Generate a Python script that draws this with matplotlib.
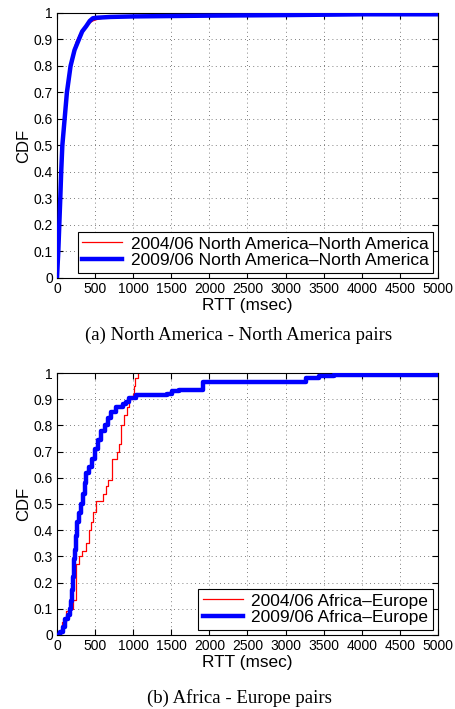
import numpy as np
import matplotlib.pyplot as plt

# North America - North America pairs (RTT msec, CDF)
na_2004_rtt = [0, 10, 20, 30, 45, 60, 75, 90, 105, 130, 155, 180, 210, 250, 290, 330, 380, 420, 470, 520, 600, 800, 1200, 2000, 3000, 4000, 5000]
na_2004_cdf = [0, 0.08, 0.16, 0.24, 0.33, 0.42, 0.50, 0.56, 0.62, 0.70, 0.76, 0.80, 0.85, 0.89, 0.915, 0.935, 0.95, 0.96, 0.97, 0.975, 0.98, 0.985, 0.988, 0.99, 0.992, 0.995, 0.995]
na_2009_rtt = [0, 10, 17, 30, 43, 55, 70, 85, 100, 130, 178, 230, 287, 330, 383, 430, 470, 520, 700, 1000, 2000, 3000, 4000, 5000]
na_2009_cdf = [0, 0.06, 0.1, 0.2, 0.3, 0.4, 0.5, 0.55, 0.6, 0.7, 0.8, 0.86, 0.9, 0.93, 0.95, 0.97, 0.98, 0.982, 0.985, 0.987, 0.99, 0.992, 0.995, 0.995]

# Africa - Europe pairs (step CDFs)
af_2004_rtt = [0, 40, 70, 120, 160, 209, 243, 287, 330, 383, 417, 448, 470, 513, 600, 643, 665, 722, 787, 809, 839, 883, 913, 948, 991, 1010, 1030, 1057]
af_2004_cdf = [0, 0.02, 0.05, 0.09, 0.10, 0.134, 0.27, 0.30, 0.32, 0.35, 0.40, 0.43, 0.47, 0.51, 0.54, 0.57, 0.59, 0.67, 0.70, 0.73, 0.80, 0.84, 0.87, 0.90, 0.92, 0.95, 0.98, 1.0]
af_2009_rtt = [0, 35, 78, 100, 143, 165, 187, 200, 209, 217, 230, 252, 261, 287, 317, 339, 361, 383, 426, 461, 496, 539, 583, 626, 670, 713, 774, 861, 900, 948, 1035, 1448, 1513, 1600, 1921, 3263, 3440, 3630, 5000]
af_2009_cdf = [0, 0.013, 0.03, 0.06, 0.076, 0.1, 0.13, 0.17, 0.22, 0.29, 0.325, 0.376, 0.43, 0.465, 0.5, 0.54, 0.58, 0.62, 0.64, 0.67, 0.71, 0.745, 0.777, 0.80, 0.83, 0.85, 0.87, 0.88, 0.89, 0.905, 0.917, 0.92, 0.93, 0.936, 0.967, 0.98, 0.988, 0.992, 0.992]

plt.rcParams['font.family'] = ['Liberation Sans', 'DejaVu Sans']

fig = plt.figure(figsize=(4.56, 7.09), dpi=100)
ax1 = fig.add_axes([0.125, 0.6079, 0.8355, 0.3738])
ax2 = fig.add_axes([0.125, 0.1044, 0.8355, 0.3695])

ax1.plot(na_2004_rtt, na_2004_cdf, color='red', lw=0.9, label='2004/06 North America–North America', zorder=2)
ax1.plot(na_2009_rtt, na_2009_cdf, color='blue', lw=3.2, label='2009/06 North America–North America', zorder=3)

ax2.step(af_2004_rtt, af_2004_cdf, where='post', color='red', lw=0.9, label='2004/06 Africa–Europe', zorder=2)
ax2.step(af_2009_rtt, af_2009_cdf, where='post', color='blue', lw=3.2, label='2009/06 Africa–Europe', zorder=3)

yt = np.arange(0, 1.01, 0.1)
ylabels = ['0', '0.1', '0.2', '0.3', '0.4', '0.5', '0.6', '0.7', '0.8', '0.9', '1']
for ax in (ax1, ax2):
    ax.set_xlim(0, 5000)
    ax.set_ylim(0, 1)
    ax.set_xticks(np.arange(0, 5001, 500))
    ax.set_yticks(yt)
    ax.set_yticklabels(ylabels)
    ax.tick_params(direction='in', top=True, right=True, labelsize=10, length=4, pad=3)
    ax.grid(True, linestyle=(0, (1, 4)), color='#555555', lw=0.6)
    ax.set_xlabel('RTT (msec)', fontsize=12.4, labelpad=1)
    ax.set_ylabel('CDF', fontsize=12, labelpad=2)
    for s in ax.spines.values():
        s.set_linewidth(0.8)
    leg = ax.legend(loc='lower right', fontsize=12.5, fancybox=False, edgecolor='black',
                    framealpha=1, handlelength=2.3, borderaxespad=0.3, labelspacing=0.1,
                    borderpad=0.25, handletextpad=0.5)
    leg.get_frame().set_linewidth(0.8)

fig.text(0.524, 0.5275, '(a) North America - North America pairs', ha='center', va='center',
         fontsize=13.5, family='Liberation Serif')
fig.text(0.524, 0.0155, '(b) Africa - Europe pairs', ha='center', va='center',
         fontsize=13.5, family='Liberation Serif')

fig.savefig('out.png', dpi=100)
